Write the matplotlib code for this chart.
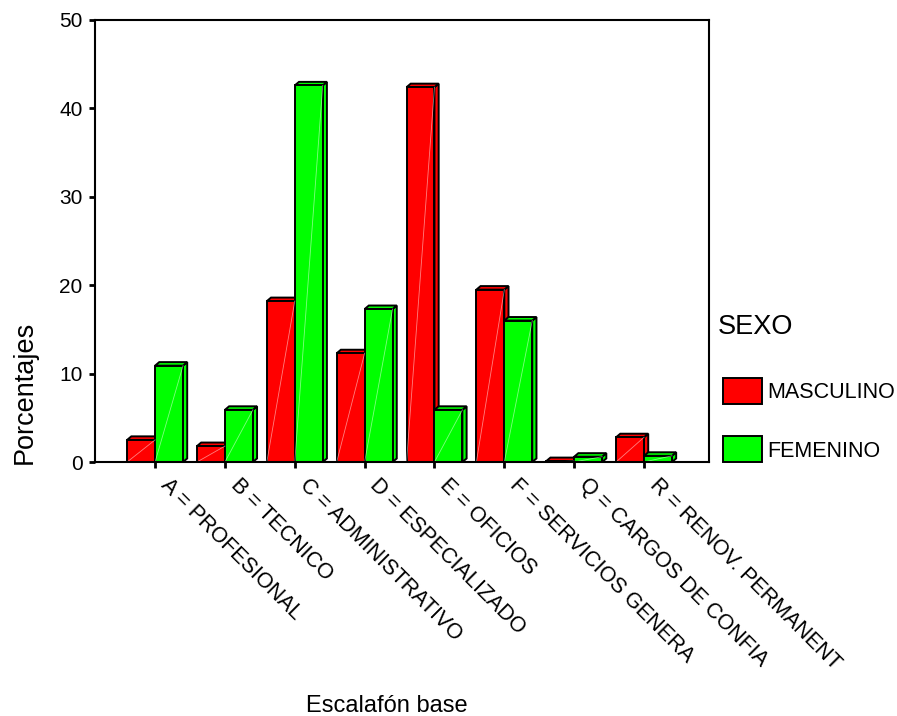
import matplotlib
matplotlib.use("Agg")
import matplotlib.pyplot as plt
from matplotlib.patches import Polygon, Rectangle
from matplotlib.transforms import ScaledTranslation

plt.rcParams['font.family'] = ['Liberation Sans', 'DejaVu Sans']

# Porcentaje por escalafón y sexo
categorias = ["A = PROFESIONAL", "B = TECNICO", "C = ADMINISTRATIVO",
              "D = ESPECIALIZADO", "E = OFICIOS", "F = SERVICIOS GENERA",
              "Q = CARGOS DE CONFIA", "R = RENOV. PERMANENT"]
masculino = [2.5, 1.8, 18.2, 12.3, 42.4, 19.5, 0.1, 2.8]
femenino = [10.9, 5.9, 42.6, 17.3, 5.9, 16.0, 0.6, 0.7]
series = [("MASCULINO", masculino, "#ff0000"), ("FEMENINO", femenino, "#00ff00")]

fig = plt.figure(figsize=(8.97, 7.16), dpi=100)
ax = fig.add_axes([95 / 897, 1 - 462 / 716, 614 / 897, 442 / 716])

ancho = 0.4
dx, dy = 0.06, 0.4


def barra_3d(ax, x0, h, color):
    x1 = x0 + ancho
    kw = dict(facecolor=color, edgecolor="black", linewidth=1.4, joinstyle="miter")
    # cara lateral y tapa
    ax.add_patch(Polygon([(x1, 0), (x1 + dx, dy), (x1 + dx, h + dy), (x1, h)], **kw))
    ax.add_patch(Polygon([(x0, h), (x0 + dx, h + dy), (x1 + dx, h + dy), (x1, h)], **kw))
    ax.add_patch(Rectangle((x0, 0), ancho, h, **kw))
    # brillo diagonal
    ax.plot([x0, x1], [0, h], color="white", linewidth=0.6, alpha=0.5)


for k, (nombre, valores, color) in enumerate(series):
    for i, v in enumerate(valores):
        barra_3d(ax, i - ancho + k * ancho, v, color)

ax.set_xlim(-0.86, 7.93)
ax.set_ylim(0, 50)
ax.set_yticks([0, 10, 20, 30, 40, 50])
ax.set_xticks(range(len(categorias)))
ax.set_xticklabels(categorias, rotation=-45, ha="left", va="top",
                   rotation_mode="anchor", fontsize=15.5)
ax.tick_params(axis="y", labelsize=15, length=4, width=2, pad=5)
ax.tick_params(axis="x", length=4, width=2, pad=12)
# desplazar etiquetas giradas hacia la derecha y arriba
desplaza = ScaledTranslation(16 / 100, 10 / 100, fig.dpi_scale_trans)
for lbl in ax.get_xticklabels():
    lbl.set_transform(lbl.get_transform() + desplaza)
for s in ax.spines.values():
    s.set_linewidth(1.5)
    s.set_color("black")

ax.set_ylabel("Porcentajes", fontsize=19.5, va="center")
ax.yaxis.set_label_coords(-0.114, 70 / 442)
ax.set_xlabel("Escalafón base", fontsize=17, va="center")
ax.xaxis.set_label_coords(0.475, -(706 - 462) / 442)

# Leyenda
fig.text(718 / 897, 1 - 327 / 716, "SEXO", fontsize=19.5, va="center", ha="left")
for j, (nombre, valores, color) in enumerate(series):
    ytop = 378 + j * 58
    fig.patches.append(Rectangle((723 / 897, 1 - (ytop + 26) / 716), 39 / 897, 26 / 716,
                                 facecolor=color, edgecolor="black", linewidth=1.4,
                                 transform=fig.transFigure, figure=fig))
    fig.text(767 / 897, 1 - (ytop + 15) / 716, nombre, fontsize=15.5, va="center", ha="left")

fig.savefig("out.png", dpi=100)
